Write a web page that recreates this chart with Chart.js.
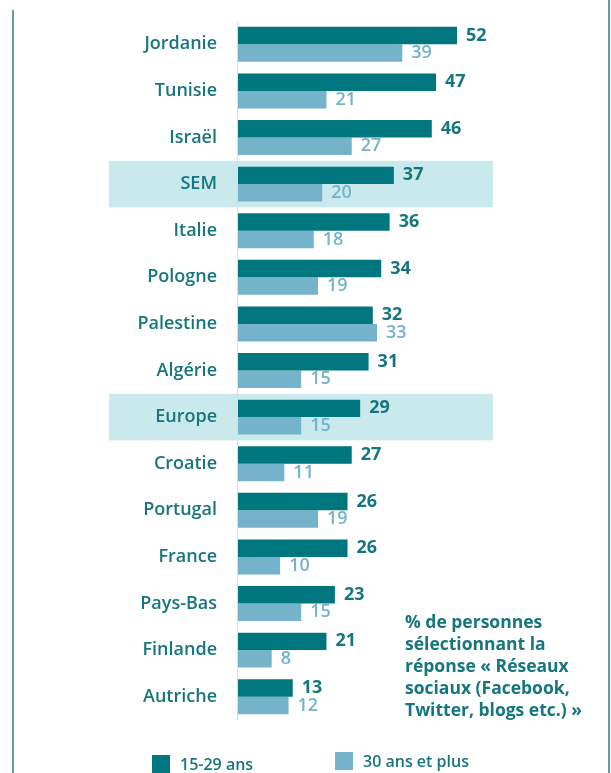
<!DOCTYPE html>
<html>
<head>
<meta charset="utf-8">
<script src="https://cdn.jsdelivr.net/npm/chart.js@4"></script>
<style>
  html, body { margin: 0; padding: 0; background: #fff; }
  #wrap { position: relative; width: 611px; height: 773px; overflow: hidden; font-family: "Open Sans", sans-serif; }
  #chart { position: absolute; left: 0; top: 0; }
  .note { position: absolute; left: 405px; top: 610px; color: #16767e; font-weight: 700; font-size: 17.5px; line-height: 22px; }
  .leg { position: absolute; color: #16767e; font-weight: 600; font-size: 16px; display: flex; align-items: center; }
  .leg span.sw { display: inline-block; width: 18px; height: 18px; margin-right: 10px; }
</style>
</head>
<body>
<div id="wrap">
  <canvas id="chart" width="611" height="773"></canvas>
  <div class="note">% de personnes<br>sélectionnant la<br>réponse « Réseaux<br>sociaux (Facebook,<br>Twitter, blogs etc.) »</div>
  <div class="leg" style="left:152px; top:753px;"><span class="sw" style="background:#00767e"></span>15-29 ans</div>
  <div class="leg" style="left:335px; top:750px;"><span class="sw" style="background:#74b3ca"></span>30 ans et plus</div>
</div>
<script>
const countries = ["Jordanie", "Tunisie", "Israël", "SEM", "Italie", "Pologne", "Palestine",
  "Algérie", "Europe", "Croatie", "Portugal", "France", "Pays-Bas", "Finlande", "Autriche"];
const young = [52, 47, 46, 37, 36, 34, 32, 31, 29, 27, 26, 26, 23, 21, 13];
const older = [39, 21, 27, 20, 18, 19, 33, 15, 15, 11, 19, 10, 15, 8, 12];
const highlighted = ["SEM", "Europe"];

const DARK = "#00767e";
const LIGHT = "#74b3ca";
const TEXT = "#16767e";

// shaded rows for the regional averages, drawn before the labels
const bandPlugin = {
  id: "bands",
  beforeDraw(chart) {
    const ctx = chart.ctx;
    const y = chart.scales.y;
    const half = (y.getPixelForValue(1) - y.getPixelForValue(0)) / 2;
    ctx.save();
    ctx.fillStyle = "#cae9ec";
    highlighted.forEach(name => {
      const py = y.getPixelForValue(countries.indexOf(name));
      ctx.fillRect(109, py - half, 384, half * 2);
    });
    ctx.strokeStyle = "#dddddd";
    ctx.lineWidth = 1;
    ctx.beginPath();
    ctx.moveTo(chart.chartArea.left - 0.5, chart.chartArea.top);
    ctx.lineTo(chart.chartArea.left - 0.5, chart.chartArea.bottom);
    ctx.stroke();
    ctx.restore();
  }
};

// values at the end of each bar, plus the side rules of the panel
const valuePlugin = {
  id: "values",
  afterDatasetsDraw(chart) {
    const ctx = chart.ctx;
    ctx.save();
    ctx.textBaseline = "middle";
    ctx.textAlign = "left";
    chart.data.datasets.forEach((ds, i) => {
      const meta = chart.getDatasetMeta(i);
      ctx.fillStyle = i === 0 ? TEXT : LIGHT;
      ctx.font = (i === 0 ? "700" : "600") + " 18px 'Open Sans'";
      meta.data.forEach((bar, j) => {
        ctx.fillText(ds.data[j], bar.x + 9, bar.y);
      });
    });
    ctx.strokeStyle = "#2a7f86";
    ctx.lineWidth = 1.5;
    ctx.beginPath();
    ctx.moveTo(13, 10);
    ctx.lineTo(13, 773);
    ctx.moveTo(609, 0);
    ctx.lineTo(609, 773);
    ctx.stroke();
    ctx.restore();
  }
};

new Chart(document.getElementById("chart"), {
  type: "bar",
  data: {
    labels: countries,
    datasets: [
      { label: "15-29 ans", data: young, backgroundColor: DARK },
      { label: "30 ans et plus", data: older, backgroundColor: LIGHT }
    ]
  },
  options: {
    indexAxis: "y",
    responsive: false,
    animation: false,
    datasets: {
      bar: { categoryPercentage: 0.75, barPercentage: 1 }
    },
    layout: { padding: { top: 21, bottom: 53, left: 0, right: 36 } },
    plugins: {
      legend: { display: false },
      tooltip: { enabled: false }
    },
    scales: {
      x: { display: false, min: 0, max: 80 },
      y: {
        afterFit: scale => {
          scale.width = 238;
          scale.paddingTop = 0;
          scale.paddingBottom = 0;
        },
        grid: { display: false, drawTicks: false },
        border: { display: false },
        ticks: {
          padding: 21,
          color: TEXT,
          font: { family: "Open Sans", size: 18, weight: "600" }
        }
      }
    }
  },
  plugins: [bandPlugin, valuePlugin]
});
</script>
</body>
</html>
